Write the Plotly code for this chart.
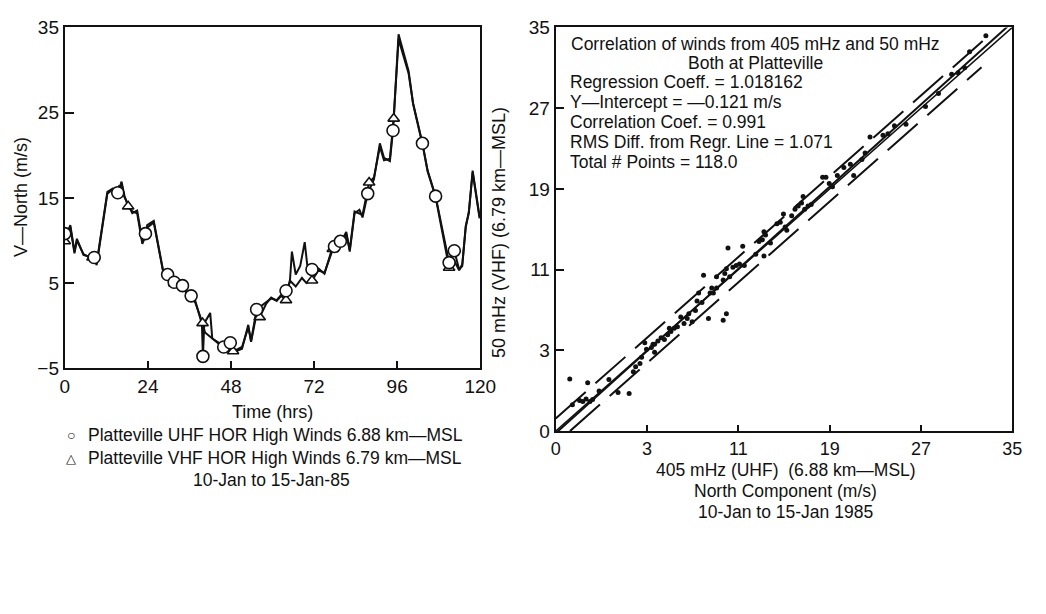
import plotly.graph_objects as go

W, H = 1046, 614

# ---------------- Left chart data (Time series) ----------------
uhf_t = [0, 1.6, 2.8, 3.5, 5.4, 7.3, 8.5, 9.2, 12.3, 13.9, 15.3, 16.4, 17.2, 18.3, 19.5, 20.9,
         22.4, 23.3, 23.8, 25.7, 28.7, 29.7, 31.1, 32.3, 34.0, 34.9, 36.5, 37.7, 39.6, 39.9, 40.3,
         42.0, 42.6, 44.5, 45.9, 47.8, 48.8, 51.2, 53.0, 53.8, 55.4, 58.2, 59.6, 61.2, 62.5, 63.9,
         65.0, 65.6, 66.7, 68.0, 69.3, 70.2, 71.4, 73.3, 75.0, 77.1, 78.0, 79.9, 81.3, 82.3, 83.7,
         85.1, 86.0, 87.5, 89.3, 91.0, 92.2, 93.9, 94.8, 96.4, 97.8, 99.3, 100.6, 103.3, 104.8,
         107.1, 111.0, 112.5, 113.9, 114.8, 115.8, 116.7, 117.8, 119.8]
uhf_v = [10.8, 11.6, 8.5, 10.0, 8.4, 8.0, 8.0, 7.3, 15.7, 16.1, 15.6, 16.7, 15.1, 14.2, 13.2, 13.5,
         10.0, 10.8, 11.5, 12.1, 5.7, 6.0, 4.8, 5.3, 4.7, 4.2, 3.5, 2.9, 0.2, -3.6, 0.3,
         1.5, -1.5, -2.0, -2.5, -2.0, -3.0, -2.5, -0.2, -1.8, 1.9, 2.7, 3.2, 3.0, 3.6, 4.1,
         5.1, 8.7, 6.0, 7.0, 9.8, 6.5, 6.6, 6.7, 6.1, 8.9, 9.3, 9.9, 11.0, 8.7, 13.2,
         13.6, 12.7, 15.5, 17.2, 21.4, 19.7, 19.3, 22.9, 34.2, 32.1, 29.9, 26.1, 21.4, 18.2,
         15.2, 7.4, 8.8, 6.6, 7.0, 11.7, 13.2, 18.2, 12.8]

vhf_t = [0, 1.6, 2.8, 3.5, 5.4, 7.3, 8.5, 9.2, 12.3, 13.9, 15.3, 16.4, 17.2, 18.3, 19.5, 20.9,
         22.4, 23.3, 23.8, 25.7, 28.7, 29.7, 31.1, 32.3, 34.0, 34.9, 36.5, 37.7, 39.8, 40.5,
         42.6, 44.5, 45.9, 47.8, 48.8, 51.2, 53.0, 53.8, 55.4, 56.3, 58.2, 59.6, 61.2, 62.5, 63.9,
         65.0, 66.7, 68.5, 69.8, 71.4, 73.3, 75.0, 77.1, 78.0, 79.9, 81.3, 82.3, 83.7, 85.1, 86.0,
         87.9, 89.3, 91.0, 92.2, 93.9, 95.0, 96.4, 97.8, 99.3, 100.6, 103.3, 104.8, 107.1,
         111.0, 112.5, 113.9, 114.8, 115.8, 116.7, 117.8, 119.8]
vhf_v = [9.9, 11.8, 8.7, 10.2, 8.3, 8.1, 7.9, 7.1, 15.5, 16.0, 15.5, 16.9, 15.3, 14.0, 13.4, 13.2,
         9.6, 10.5, 11.8, 12.3, 5.8, 5.8, 4.9, 5.2, 4.9, 4.0, 3.4, 2.7, 0.3, -0.8,
         -1.5, -2.2, -2.6, -2.3, -3.1, -2.7, 0.1, -1.9, 1.4, 1.0, 2.6, 3.3, 2.9, 3.5, 3.0,
         5.3, 4.6, 5.6, 5.0, 5.3, 6.5, 6.2, 8.6, 9.0, 9.6, 10.8, 8.9, 13.4, 13.2, 13.0,
         16.8, 17.4, 21.0, 19.4, 19.6, 24.3, 33.6, 31.7, 29.6, 26.0, 21.3, 18.1, 15.1,
         6.8, 7.6, 6.5, 7.2, 11.5, 13.4, 18.0, 12.6]

uhf_mark_t = [0, 8.5, 15.3, 23.3, 29.7, 31.6, 34.0, 36.5, 39.9, 45.9, 47.8, 55.4, 63.9, 71.4,
              77.9, 79.6, 87.5, 94.8, 103.3, 107.1, 111.0, 112.5]
uhf_mark_v = [10.8, 8.0, 15.6, 10.8, 6.0, 5.1, 4.7, 3.5, -3.6, -2.5, -2.0, 1.9, 4.1, 6.6,
              9.3, 9.9, 15.5, 22.9, 21.4, 15.2, 7.4, 8.8]
vhf_mark_t = [0, 8.0, 15.6, 18.3, 31.6, 39.8, 46.5, 48.6, 56.3, 63.9, 71.4, 77.4, 87.9, 95.0, 111.0]
vhf_mark_v = [9.9, 8.0, 15.8, 14.0, 5.0, 0.3, -2.6, -3.0, 1.0, 3.0, 5.3, 9.0, 16.8, 24.3, 6.8]

time_ticks = [0, 24, 48, 72, 96, 120]
v_ticks = [-5, 5, 15, 25, 35]

# ---------------- Right chart data (Correlation) ----------------
uhf_x = [-3.77, -2.20, -3.54, -2.91, -2.63, -2.34, -2.00, -1.77, -1.20, -0.34, 0.46, 1.43, 1.80,
         2.00, 2.38, 2.80, 2.52, 2.95, 3.38, 3.66, 3.52, 3.95, 4.23, 4.52, 4.81, 5.09, 5.38, 5.66,
         5.95, 6.24, 6.52, 6.95, 6.66, 7.24, 7.38, 7.52, 7.81, 7.95, 8.38, 8.52, 8.67, 8.81, 9.09,
         9.67, 9.95, 9.67, 9.81, 10.09, 9.95, 10.24, 10.52, 10.81, 11.10, 11.38, 11.52, 12.52,
         12.81, 13.10, 13.24, 13.38, 13.81, 13.24, 14.38, 14.67, 15.10, 15.24, 14.95, 15.67,
         15.96, 16.24, 16.53, 16.67, 16.81, 17.10, 17.38, 18.38, 18.67, 18.96, 19.24, 19.67,
         20.81, 21.10, 21.82, 22.10, 22.53, 23.67, 24.10, 24.67, 25.68, 27.39, 28.53, 29.68,
         30.25, 31.25, 32.68, 3.66, 4.95, 9.09, 20.24, 30.82]
vhf_y = [0.16, -0.22, -2.39, -1.97, -2.07, -1.82, -2.07, -1.88, -1.02, 0.10, -1.18, -1.27, 0.89,
         1.37, 1.69, 3.76, 2.32, 3.12, 3.28, 2.80, 3.60, 3.92, 4.24, 4.08, 4.55, 4.87, 5.19, 5.35,
         6.31, 5.67, 6.15, 5.83, 6.62, 6.94, 7.90, 8.69, 7.74, 10.45, 6.15, 8.69, 9.17, 8.69, 10.29,
         5.99, 6.62, 9.97, 10.61, 13.15, 11.08, 10.29, 11.24, 11.40, 11.56, 13.31, 11.40, 12.52,
         13.79, 13.95, 14.75, 14.43, 13.63, 12.36, 15.54, 15.70, 15.22, 14.90, 16.50, 16.34,
         16.97, 17.29, 17.61, 18.25, 16.97, 17.29, 17.45, 20.16, 20.16, 19.52, 19.20, 20.32,
         21.43, 20.32, 21.91, 22.55, 24.14, 24.30, 24.46, 25.25, 25.41, 27.17, 28.44, 30.35,
         30.51, 32.58, 34.17, 3.60, 5.19, 9.17, 21.11, 30.99]

reg_coeff = 1.018162
reg_intercept = -0.121
line_x = [-5, 35]
band_offset = 1.25
band_upper_x = [-5, 32.4]
band_lower_x = [-3.75, 32.3]

corr_tickvals = [-5, 3, 11, 19, 27, 35]
corr_ticktext = ["0", "3", "11", "19", "27", "35"]

stats_lines = ["Regression Coeff. = 1.018162",
               "Y\u2014Intercept = \u20140.121 m/s",
               "Correlation Coef. = 0.991",
               "RMS Diff. from Regr. Line = 1.071",
               "Total # Points = 118.0"]

FONT = "Liberation Sans"
BLACK = "#111111"

fig = go.Figure()

# Left: lines
fig.add_trace(go.Scatter(x=uhf_t, y=uhf_v, mode="lines", line=dict(color=BLACK, width=2),
                         xaxis="x", yaxis="y", showlegend=False, hoverinfo="skip"))
fig.add_trace(go.Scatter(x=vhf_t, y=vhf_v, mode="lines", line=dict(color=BLACK, width=2),
                         xaxis="x", yaxis="y", showlegend=False, hoverinfo="skip"))
fig.add_trace(go.Scatter(x=vhf_mark_t, y=vhf_mark_v, mode="markers",
                         marker=dict(symbol="triangle-up", size=10, color="white",
                                     line=dict(color=BLACK, width=1.6)),
                         xaxis="x", yaxis="y", showlegend=False))
fig.add_trace(go.Scatter(x=uhf_mark_t, y=uhf_mark_v, mode="markers",
                         marker=dict(symbol="circle", size=12, color="white",
                                     line=dict(color=BLACK, width=1.6)),
                         xaxis="x", yaxis="y", showlegend=False))

# Right: lines
fig.add_trace(go.Scatter(x=line_x, y=line_x, mode="lines", line=dict(color=BLACK, width=1.5),
                         xaxis="x2", yaxis="y2", showlegend=False, hoverinfo="skip"))
fig.add_trace(go.Scatter(x=line_x, y=[reg_coeff * v + reg_intercept for v in line_x], mode="lines",
                         line=dict(color=BLACK, width=2),
                         xaxis="x2", yaxis="y2", showlegend=False, hoverinfo="skip"))
fig.add_trace(go.Scatter(x=band_upper_x, y=[v + band_offset for v in band_upper_x], mode="lines",
                         line=dict(color=BLACK, width=2, dash="40px,13px"),
                         xaxis="x2", yaxis="y2", showlegend=False, hoverinfo="skip"))
fig.add_trace(go.Scatter(x=band_lower_x, y=[v - band_offset for v in band_lower_x], mode="lines",
                         line=dict(color=BLACK, width=2, dash="40px,13px"),
                         xaxis="x2", yaxis="y2", showlegend=False, hoverinfo="skip"))
fig.add_trace(go.Scatter(x=uhf_x, y=vhf_y, mode="markers",
                         marker=dict(symbol="circle", size=5, color=BLACK),
                         xaxis="x2", yaxis="y2", showlegend=False))

axis_common = dict(showgrid=False, zeroline=False, showline=True, linecolor=BLACK, linewidth=2,
                   mirror=True, ticks="inside", tickcolor=BLACK, tickwidth=1.5,
                   tickfont=dict(family=FONT, size=19, color=BLACK))

fig.update_layout(
    width=W, height=H, margin=dict(l=0, r=0, t=0, b=0),
    paper_bgcolor="white", plot_bgcolor="white",
    font=dict(family=FONT, color=BLACK),
    xaxis=dict(axis_common, domain=[61 / W, 485 / W], range=[0, 120], tickvals=time_ticks,
               ticklen=7, anchor="y"),
    yaxis=dict(axis_common, domain=[1 - 371 / H, 1 - 18 / H], range=[-5, 35], tickvals=v_ticks,
               ticklen=9, anchor="x"),
    xaxis2=dict(axis_common, domain=[562 / W, 1028 / W], range=[-5, 35], tickvals=corr_tickvals,
                ticktext=corr_ticktext, ticklen=6, anchor="y2",
                tickfont=dict(family=FONT, size=18, color=BLACK)),
    yaxis2=dict(axis_common, domain=[1 - 436 / H, 1 - 18 / H], range=[-5, 35],
                tickvals=corr_tickvals, ticktext=corr_ticktext, ticklen=8, anchor="x2"),
)

ann = []
def txt(s, px, py, size=18, xanchor="center", angle=0):
    ann.append(dict(text=s, x=px / W, y=1 - py / H, xref="paper", yref="paper",
                    xanchor=xanchor, yanchor="middle", showarrow=False, textangle=angle,
                    font=dict(family=FONT, size=size, color=BLACK)))

txt("V\u2014North (m/s)", 17, 194, size=18, angle=-90)
txt("Time (hrs)", 273, 416, size=18)
txt("\u25cb", 67, 440, size=14)
txt("Platteville UHF HOR High Winds 6.88 km\u2014MSL", 83, 440, size=17.5, xanchor="left")
txt("\u25b3", 67, 464, size=13)
txt("Platteville VHF HOR High Winds 6.79 km\u2014MSL", 83, 464, size=17.5, xanchor="left")
txt("10-Jan to 15-Jan-85", 272, 487, size=17.5)

txt("50 mHz (VHF) (6.79 km\u2014MSL)", 504, 230, size=18, angle=-90)
txt("405 mHz (UHF)  (6.88 km\u2014MSL)", 797, 476, size=17.5)
txt("North Component (m/s)", 797, 498, size=17.5)
txt("10-Jan to 15-Jan 1985", 797, 520, size=17.5)

txt("Correlation of winds from 405 mHz and 50 mHz", 766, 35, size=17.5)
txt("Both at Platteville", 766, 55, size=17.5)
for i, s in enumerate(stats_lines):
    txt(s, 575, 75 + i * 20.7, size=17.5, xanchor="left")

fig.update_layout(annotations=ann)
fig.write_html("out.html", config={"displayModeBar": False},
               post_script="document.body.style.margin='0';document.body.style.overflow='hidden';")
